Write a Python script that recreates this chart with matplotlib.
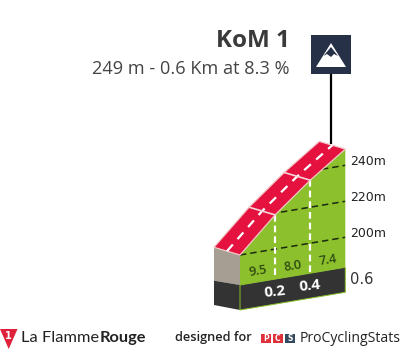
import numpy as np
import matplotlib
matplotlib.use("Agg")
import matplotlib.pyplot as plt
from matplotlib.patches import Polygon, Rectangle

title = "KoM 1"
subtitle = "249 m - 0.6 Km at 8.3 %"
km = [0.0, 0.2, 0.4, 0.6]
elev = [200, 219, 235, 249]
grades = ["9.5", "8.0", "7.4"]
km_labels = ["0.2", "0.4"]
grid_elev = [200, 220, 240]
grid_labels = ["200m", "220m", "240m"]
end_label = "0.6"

X0, Y0, SX, SKEW, SY = 240.0, 255.0, 175.5, 29.5, 1.8
DEPTH = (-26.0, -7.7)
BAND_TOP, BAND_BOT = 30.0, 55.0

def px(k, e, drop=0.0, depth=0.0):
    k = np.asarray(k, float); e = np.asarray(e, float)
    x = X0 + SX * k + DEPTH[0] * depth
    y = Y0 - (e - 200) * SY - SKEW * k + drop + DEPTH[1] * depth
    return x, y

def poly(xs, ys):
    return np.column_stack([xs, ys])

fig = plt.figure(figsize=(4.05, 3.55), dpi=100)
ax = fig.add_axes([0, 0, 1, 1])
ax.set_xlim(0, 405); ax.set_ylim(355, 0); ax.axis("off")

GREEN, RED, DARK, GRAY = "#8CC02C", "#E5113F", "#333333", "#A69E92"
k_ends = [km[0], km[-1]]; e_base = [200, 200]

# Side face
xa, ya = px(0, 200); xb, yb = px(0, 200, depth=1)
xc, yc = px(0, 200, BAND_TOP); xd, yd = px(0, 200, BAND_TOP + 3.4, depth=1)
xe, ye = px(0, 200, BAND_BOT); xf, yf = px(0, 200, BAND_BOT + 2.7, depth=1)
ax.add_patch(Polygon(poly([xb, xa, xc, xd], [yb, ya, yc, yd]), fc=GRAY, ec="none", zorder=2))
ax.add_patch(Polygon(poly([xd, xc, xe, xf], [yd, yc, ye, yf]), fc=DARK, ec="none", zorder=2))

# Front face: green profile
xt, yt = px(km, elev)
xbt, ybt = px(k_ends[::-1], e_base[::-1], BAND_TOP)
green = Polygon(poly(np.r_[xt, xbt], np.r_[yt, ybt]), fc=GREEN, ec="none", zorder=3)
ax.add_patch(green)

# Gridlines clipped to the profile
for g, lab in zip(grid_elev, grid_labels):
    gx, gy = px(k_ends, [g, g])
    line, = ax.plot(gx, gy, color="#1c2a10", lw=1.1, dashes=(4.2, 2.6), zorder=4)
    line.set_clip_path(green)
    ax.text(gx[1] + 4.5, gy[1] - 3.5, lab, fontsize=9, color="#222222",
            ha="left", va="center", zorder=6)

# Distance markers on the front face
for k, e in zip(km[1:-1], elev[1:-1]):
    mx, my = px([k, k], [e, 200], [0, BAND_TOP])
    ax.plot(mx, my, color="white", lw=1.6, dashes=(3.0, 1.8), zorder=5)

# Dark band
xb1, yb1 = px(k_ends, e_base, BAND_TOP)
xb2, yb2 = px(k_ends[::-1], e_base, BAND_BOT)
ax.add_patch(Polygon(poly(np.r_[xb1, xb2], np.r_[yb1, yb2]), fc=DARK, ec=GREEN, lw=0.7, zorder=5))

# Road surface
xr, yr = px(km, elev, depth=1)
ax.add_patch(Polygon(poly(np.r_[xt, xr[::-1]], np.r_[yt, yr[::-1]]), fc=RED,
                     ec="#F2C6C6", lw=0.9, zorder=6, joinstyle="round"))
xm, ym = px(km, elev, depth=0.5)
ax.plot(xm, ym, color="white", lw=1.6, dashes=(4.0, 3.2), zorder=7)
for k, e in zip(km[1:-1], elev[1:-1]):
    sx, sy = px([k, k], [e, e], depth=0)
    bx, by = px([k, k], [e, e], depth=1)
    ax.plot([sx[0], bx[0]], [sy[0], by[0]], color="#F5D5D8", lw=1.2, zorder=7)

# Segment labels
for i, g in enumerate(grades):
    k = (km[i] + km[i + 1]) / 2
    lx, ly = px(k, 200, BAND_TOP - 10.5)
    ax.text(lx, ly, g, fontsize=9.2, fontweight="semibold", color="#2F4A12", rotation=9,
            family="Open Sans", ha="center", va="center", zorder=6, rotation_mode="anchor")
for k, lab in zip(km[1:-1], km_labels):
    lx, ly = px(k, 200, BAND_TOP + 12.5)
    ax.text(lx, ly, lab, fontsize=11, fontweight="bold", color="white", rotation=6,
            family="Open Sans", ha="center", va="center", zorder=7, rotation_mode="anchor")
ex, ey = px(km[-1], 200, BAND_TOP + 12.5)
ax.text(ex + 4.5, ey, end_label, fontsize=10.5, color="#333333",
        ha="left", va="center", zorder=7)

# Marker
mk_x = 330.5
ax.plot([mk_x, mk_x], [74, 144], color="black", lw=1.6, zorder=5, solid_capstyle="butt")
ax.add_patch(Rectangle((311, 35), 40, 39, fc="#263148", ec="none", zorder=6))
ax.add_patch(Polygon([(331, 43), (346, 67), (316, 67)], fc="white", ec="none", zorder=7))
ax.add_patch(Polygon([(331, 47), (338, 56), (334, 54), (331, 57), (327, 54), (323.5, 56)],
                     fc="#263148", ec="none", zorder=8))

# Heading
ax.text(290, 41, title, fontsize=17.5, fontweight="bold", color="#3A3A3A",
        family="Open Sans", ha="right", va="center")
ax.text(290, 69, subtitle, fontsize=13.1, color="#444444",
        family="Open Sans", ha="right", va="center")

# Footer
ax.add_patch(Polygon([(0, 329), (17.5, 329), (8.7, 349)], fc="#E0213C", ec="none"))
ax.text(8.7, 336, "1", fontsize=7, fontweight="bold", color="white", ha="center", va="center")
t = ax.text(21, 338, "La Flamme", fontsize=11.8, color="#222222", family="Lato",
            fontweight="normal", ha="left", va="center")
fig.canvas.draw()
bb = t.get_window_extent()
ax.text(bb.x1 + 0.5, 338, "Rouge", fontsize=11.8, color="#222222", family="Lato",
        fontweight="bold", ha="left", va="center")
ax.text(175, 338, "designed for", fontsize=9.2, color="#222222", fontweight="semibold",
        family="Open Sans", ha="left", va="center")
for x0, ch, col in [(260.5, "P", "#E0303A"), (272.5, "C", "#E0303A"), (284.5, "S", "#34495E")]:
    ax.add_patch(Rectangle((x0, 333.5), 10.5, 9.5, fc=col, ec="none"))
    ax.text(x0 + 5.2, 338.4, ch, fontsize=5.5, fontweight="bold", color="white", ha="center", va="center")
ax.text(300, 338, "ProCyclingStats", fontsize=10.1, color="#222222", family="Open Sans",
        ha="left", va="center")

fig.savefig("out.png", dpi=100, facecolor="white")
